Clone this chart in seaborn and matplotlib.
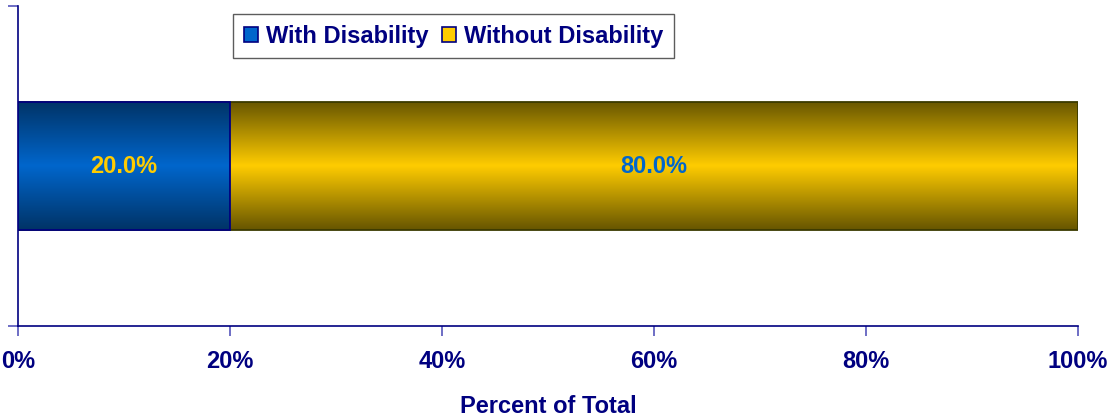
import numpy as np
import pandas as pd
import seaborn as sns
import matplotlib.pyplot as plt
from matplotlib.colors import LinearSegmentedColormap
from matplotlib.patches import Patch

# data
groups = ['With Disability', 'Without Disability']
shares = [20.0, 80.0]
bar_row = ['Total', 'Total']
xticks = [0, 20, 40, 60, 80, 100]

sns.set_theme(style='white')
plt.rcParams['font.family'] = ['Liberation Sans', 'DejaVu Sans']
plt.rcParams['font.weight'] = 'bold'

navy = '#000080'
bright = ['#0066CC', '#FFCC00']
dark = ['#003366', '#665500']
edges = ['#000080', '#3a3a00']
label_colors = ['#FFCC00', '#0066CC']

df = pd.DataFrame({'group': groups, 'share': shares, 'row': bar_row})
df['end'] = df['share'].cumsum()
df['mid'] = df['end'] - df['share'] / 2

fig = plt.figure(figsize=(11.12, 4.16), dpi=100)
ax = fig.add_axes([0.0162, 0.2163, 0.9532, 0.7693])

grad = np.linspace(0, 1, 256).reshape(-1, 1)

# stacked bar: draw the longest cumulative bar first, then overlay
for i in reversed(range(len(df))):
    sns.barplot(data=df.iloc[[i]], x='end', y='row', orient='h',
                color=bright[i], width=0.4, saturation=1, ax=ax)
    patch = ax.patches[-1]
    base = 2 * (len(df) - i)
    patch.set_facecolor('none')
    patch.set_edgecolor(edges[i])
    patch.set_linewidth(1.3)
    patch.set_zorder(base + 0.5)
    cmap = LinearSegmentedColormap.from_list('g%d' % i, [dark[i], bright[i], dark[i]])
    x0, y0 = patch.get_x(), patch.get_y()
    w, h = patch.get_width(), patch.get_height()
    im = ax.imshow(grad, cmap=cmap, extent=(x0, x0 + w, y0 + h, y0),
                   aspect='auto', interpolation='bicubic', zorder=base)
    im.set_clip_path(patch)

for _, r in df.iterrows():
    ax.text(r['mid'], 0, f"{r['share']:.1f}%", ha='center', va='center',
            color=label_colors[r.name], fontsize=17, fontweight='bold', zorder=10)

ax.set_xlim(0, 100)
ax.set_ylim(0.5, -0.5)
ax.set_xticks(xticks)
ax.set_xticklabels([f'{t}%' for t in xticks])
ax.set_yticks([-0.5, 0.5])
ax.set_yticklabels(['', ''])
ax.set_ylabel('')
ax.set_xlabel('Percent of Total', fontsize=17, fontweight='bold', color=navy, labelpad=16)

for s in ['top', 'right']:
    ax.spines[s].set_visible(False)
for s in ['left', 'bottom']:
    ax.spines[s].set_color(navy)
    ax.spines[s].set_linewidth(1.2)
ax.tick_params(axis='both', direction='out', length=7, width=1.2, color='#5555bb',
               labelcolor=navy, labelsize=17, left=True, bottom=True)
ax.tick_params(axis='x', pad=10)

handles = [Patch(facecolor=bright[i], edgecolor=navy, linewidth=1.2) for i in range(len(groups))]
leg = ax.legend(handles, groups, loc='upper left', bbox_to_anchor=(0.203, 0.975), ncol=2,
                frameon=True, fancybox=False, edgecolor='#333333', fontsize=17,
                labelcolor=navy, handlelength=0.6, handleheight=0.6, handletextpad=0.35,
                columnspacing=0.55, borderpad=0.45, borderaxespad=0)
leg.get_frame().set_linewidth(1.0)
for t in leg.get_texts():
    t.set_fontweight('bold')

fig.savefig('out.png', dpi=100)
